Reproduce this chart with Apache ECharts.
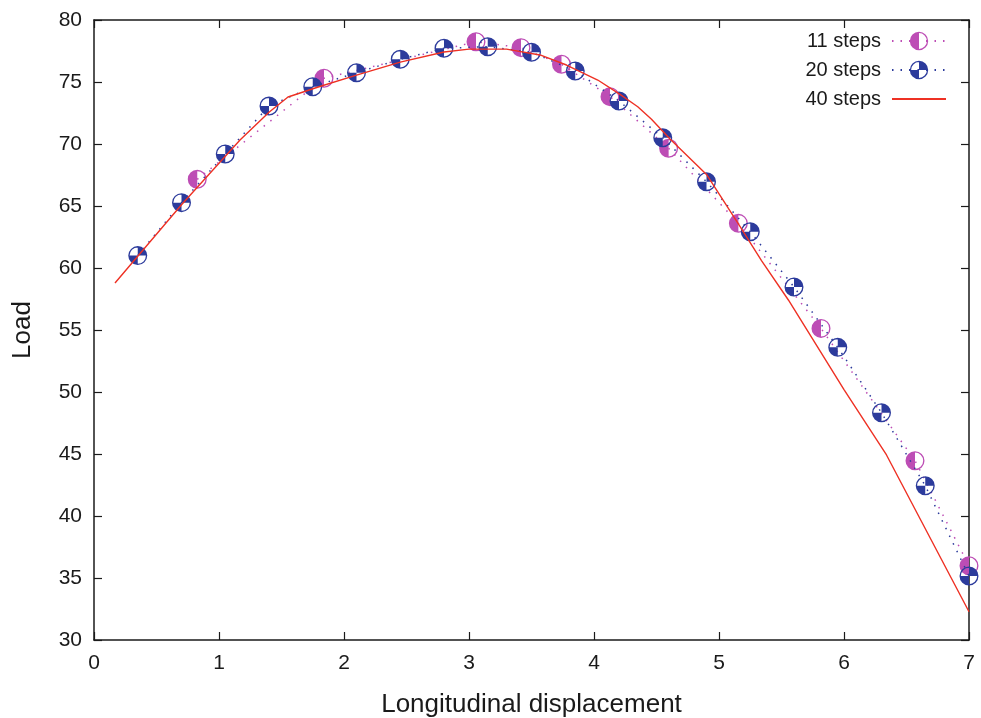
<!DOCTYPE html>
<html>
<head>
<meta charset="utf-8">
<script src="https://cdn.jsdelivr.net/npm/echarts@6/dist/echarts.min.js"></script>
<style>
html,body{margin:0;padding:0;background:#fff;}
#chart{width:981px;height:718px;}
</style>
</head>
<body>
<div id="chart"></div>
<script>
// ---- data ----
const seriesNames = ['11 steps', '20 steps', '40 steps'];

const x11 = [0.826, 1.84, 3.056, 3.416, 3.74, 4.128, 4.597, 5.155, 5.816, 6.568, 7.0];
const load11 = [67.15, 75.3, 78.25, 77.77, 76.43, 73.82, 69.65, 63.6, 55.13, 44.46, 35.99];

const x20 = [0.35, 0.7, 1.05, 1.4, 1.75, 2.1, 2.45, 2.8, 3.15, 3.5, 3.85, 4.2, 4.55, 4.9, 5.25, 5.6, 5.95, 6.3, 6.65, 7.0];
const load20 = [61.0, 65.27, 69.19, 73.06, 74.62, 75.75, 76.83, 77.72, 77.85, 77.4, 75.89, 73.47, 70.5, 66.96, 62.93, 58.47, 53.6, 48.33, 42.44, 35.16];

const x40 = [0.168, 0.7, 1.168, 1.4, 1.552, 1.8, 2.1, 2.45, 2.8, 3.0, 3.3, 3.568, 3.78, 4.03, 4.208, 4.35, 4.46, 4.608, 4.9, 5.155, 5.34, 5.555, 6.0, 6.34, 7.0];
const load40 = [58.79, 65.1, 70.32, 72.56, 73.79, 74.62, 75.55, 76.6, 77.42, 77.65, 77.65, 77.18, 76.37, 75.16, 74.0, 73.0, 72.0, 70.4, 67.55, 63.55, 60.6, 57.42, 50.2, 44.92, 32.28];

const xTicks = [0, 1, 2, 3, 4, 5, 6, 7];
const yTicks = [30, 35, 40, 45, 50, 55, 60, 65, 70, 75, 80];

// ---- styling ----
const MAG = '#bd4db5';
const BLUE = '#2c3b9c';
const RED = '#ee3124';
const INK = '#1a1a1a';
const FONT = "'Liberation Sans', Arial, Helvetica, sans-serif";

// half-filled circle (left half filled) + right half outline ring
const SYM11 = 'path://M10,0 A10,10 0 0 0 10,20 Z ' +
  'M10,0 A10,10 0 0 1 10,20 L10,18.6 A8.6,8.6 0 0 0 10,1.4 Z';
// quartered circle: top-right & bottom-left filled, other quadrants outline only
const SYM20 = 'path://M10,10 L10,0 A10,10 0 0 1 20,10 Z ' +
  'M10,10 L10,20 A10,10 0 0 1 0,10 Z ' +
  'M0,10 A10,10 0 0 1 10,0 L10,1.4 A8.6,8.6 0 0 0 1.4,10 Z ' +
  'M20,10 A10,10 0 0 1 10,20 L10,18.6 A8.6,8.6 0 0 0 18.6,10 Z';

function pairs(xs, ys) { return xs.map((x, i) => [x, ys[i]]); }

const axisCommon = {
  axisLine: { show: true, onZero: false, lineStyle: { color: INK, width: 1.5 } },
  axisTick: { show: true, inside: true, length: 8, lineStyle: { color: INK, width: 1.2 } },
  splitLine: { show: false }
};

const chart = echarts.init(document.getElementById('chart'), null, { renderer: 'canvas' });
chart.setOption({
  animation: false,
  backgroundColor: '#ffffff',
  textStyle: { fontFamily: FONT },
  grid: { left: 94, right: 12, top: 20, bottom: 78, containLabel: false, outerBoundsMode: 'none' },
  legend: {
    orient: 'vertical',
    right: 29,
    top: 26,
    align: 'right',
    itemWidth: 54,
    itemHeight: 23,
    itemGap: 9,
    textStyle: { fontSize: 20, color: INK, fontFamily: FONT, padding: [0, 6, 0, 0] },
    data: [
      { name: seriesNames[0] },
      { name: seriesNames[1] },
      { name: seriesNames[2], itemStyle: { opacity: 0 } }
    ]
  },
  xAxis: [
    Object.assign({}, axisCommon, {
      type: 'value', position: 'bottom', min: xTicks[0], max: xTicks[xTicks.length - 1], interval: 1,
      name: 'Longitudinal displacement', nameLocation: 'middle', nameGap: 52,
      nameTextStyle: { fontSize: 26, color: INK, fontFamily: FONT },
      axisLabel: { fontSize: 21, color: INK, margin: 13, fontFamily: FONT }
    }),
    Object.assign({}, axisCommon, {
      type: 'value', position: 'top', min: xTicks[0], max: xTicks[xTicks.length - 1], interval: 1,
      axisLabel: { show: false }
    })
  ],
  yAxis: [
    Object.assign({}, axisCommon, {
      type: 'value', position: 'left', min: yTicks[0], max: yTicks[yTicks.length - 1], interval: 5,
      name: 'Load', nameLocation: 'middle', nameGap: 58,
      nameTextStyle: { fontSize: 26, color: INK, fontFamily: FONT },
      axisLabel: { fontSize: 21, color: INK, margin: 12, fontFamily: FONT }
    }),
    Object.assign({}, axisCommon, {
      type: 'value', position: 'right', min: yTicks[0], max: yTicks[yTicks.length - 1], interval: 5,
      axisLabel: { show: false }
    })
  ],
  series: [
    {
      name: seriesNames[0], type: 'line', xAxisIndex: 0, yAxisIndex: 0,
      data: pairs(x11, load11),
      symbol: SYM11, symbolSize: 19, showSymbol: true,
      itemStyle: { color: MAG, borderWidth: 0 },
      lineStyle: { color: MAG, width: 1.5, type: [1.5, 7] },
      emphasis: { disabled: true }, z: 2
    },
    {
      name: seriesNames[1], type: 'line', xAxisIndex: 0, yAxisIndex: 0,
      data: pairs(x20, load20),
      symbol: SYM20, symbolSize: 19, showSymbol: true,
      itemStyle: { color: BLUE, borderWidth: 0 },
      lineStyle: { color: BLUE, width: 1.5, type: [1.5, 7] },
      emphasis: { disabled: true }, z: 3
    },
    {
      name: seriesNames[2], type: 'line', xAxisIndex: 0, yAxisIndex: 0,
      data: pairs(x40, load40),
      symbol: 'none', showSymbol: false,
      itemStyle: { color: RED },
      lineStyle: { color: RED, width: 1.4 },
      emphasis: { disabled: true }, z: 4
    }
  ]
});
</script>
</body>
</html>
